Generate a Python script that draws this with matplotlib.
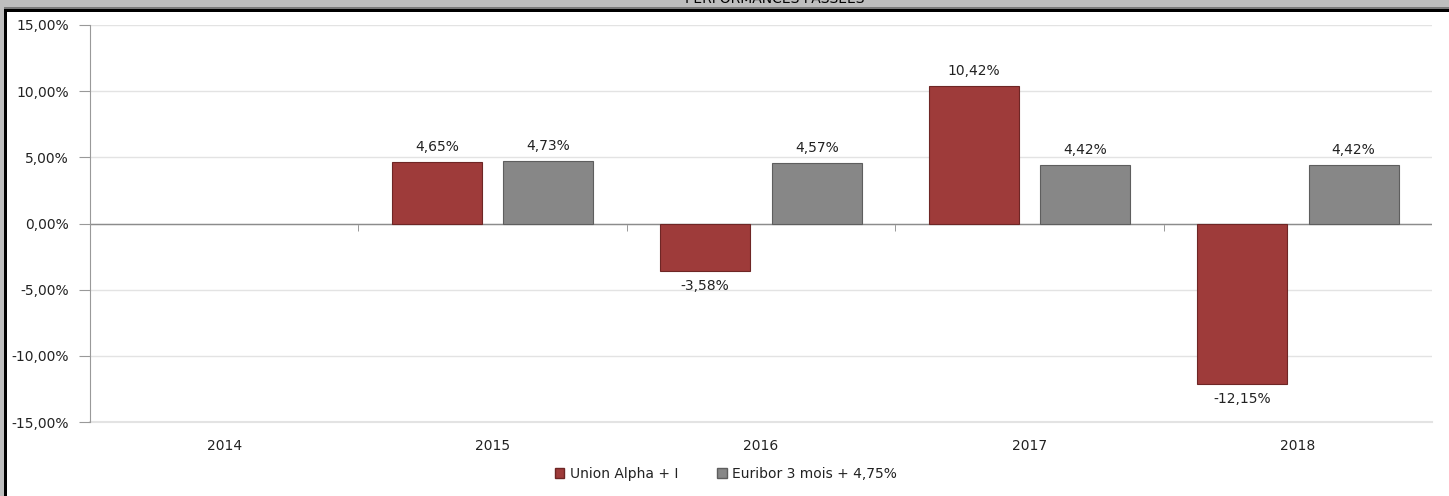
import matplotlib.pyplot as plt
from matplotlib.patches import Rectangle
from matplotlib.ticker import FuncFormatter, FixedLocator

years = ['2014', '2015', '2016', '2017', '2018']
fund = [None, 4.65, -3.58, 10.42, -12.15]
bench = [None, 4.73, 4.57, 4.42, 4.42]
fund_name = 'Union Alpha + I'
bench_name = 'Euribor 3 mois + 4,75%'
title = 'PERFORMANCES PASSEES'

red = '#9e3b3a'
grey = '#878787'
fs = 10

W, H = 1449, 496
fig = plt.figure(figsize=(W / 100, H / 100), dpi=100)
ax = fig.add_axes([90 / W, 1 - 422 / H, (1432 - 90) / W, (422 - 25) / H])

# header band (cut at the top) and frame
fig.patches.append(Rectangle((0, 1 - 7 / H), 1, 7 / H, transform=fig.transFigure,
                             facecolor='#bebebe', edgecolor='none', zorder=-2))
fig.patches.append(Rectangle((0, 1 - 9 / H), 1, 2 / H, transform=fig.transFigure,
                             facecolor='#7a7a7a', edgecolor='none', zorder=-2))
fig.patches.append(Rectangle((0, 1 - 11.5 / H), 1, 2.5 / H, transform=fig.transFigure,
                             facecolor='black', edgecolor='none', zorder=-2))
fig.patches.append(Rectangle((3.5 / W, 0), 3 / W, 1 - 9 / H, transform=fig.transFigure,
                             facecolor='black', edgecolor='none', zorder=-2))
fig.patches.append(Rectangle((0, 0), 3.5 / W, 1 - 7 / H, transform=fig.transFigure,
                             facecolor='#bebebe', edgecolor='none', zorder=-2))
fig.text(775 / W, 1 + 1 / H, title, ha='center', va='center', fontsize=fs,
         color='black', family='DejaVu Sans')

x = range(len(years))
off = 0.208
bw = 0.335
for i in x:
    if fund[i] is not None:
        ax.bar(i - off, fund[i], bw, color=red, edgecolor='#6e2625', linewidth=0.8, zorder=3)
        va = 'bottom' if fund[i] >= 0 else 'top'
        dy = 0.6 if fund[i] >= 0 else -0.6
        ax.text(i - off, fund[i] + dy, ('%.2f%%' % fund[i]).replace('.', ','),
                ha='center', va=va, fontsize=fs, color='#222222')
    if bench[i] is not None:
        ax.bar(i + off, bench[i], bw, color=grey, edgecolor='#5e5e5e', linewidth=0.8, zorder=3)
        ax.text(i + off, bench[i] + 0.6, ('%.2f%%' % bench[i]).replace('.', ','),
                ha='center', va='bottom', fontsize=fs, color='#222222')

ax.set_xlim(-0.5, len(years) - 0.5)
ax.set_ylim(-15, 15)
ax.set_yticks([-15, -10, -5, 0, 5, 10, 15])
ax.yaxis.set_major_formatter(FuncFormatter(lambda v, p: ('%.2f%%' % v).replace('.', ',')))
ax.set_xticks(list(x))
ax.set_xticklabels(years)
ax.xaxis.set_minor_locator(FixedLocator([i + 0.5 for i in range(len(years) - 1)]))
ax.tick_params(axis='x', which='major', length=0, pad=12, labelsize=fs, labelcolor='#222222')
ax.tick_params(axis='x', which='minor', length=5, color='#888888', direction='out')
ax.tick_params(axis='y', length=8, color='#999999', labelsize=fs, labelcolor='#222222', pad=7)
ax.grid(axis='y', color='#e3e3e3', linewidth=1, zorder=0)
ax.axhline(0, color='#8c8c8c', linewidth=1, zorder=2)
ax.axhline(-15, color='#e3e3e3', linewidth=1.5, zorder=0, clip_on=False)
# move minor x ticks onto the zero line
ax.spines['bottom'].set_position(('data', 0))
ax.spines['bottom'].set_visible(False)
ax.spines['top'].set_visible(False)
ax.spines['right'].set_visible(False)
ax.spines['left'].set_color('#999999')
for lbl in ax.get_xticklabels():
    lbl.set_y(-15)

h1 = Rectangle((0, 0), 1, 1, facecolor=red, edgecolor='#6e2625')
h2 = Rectangle((0, 0), 1, 1, facecolor=grey, edgecolor='#5e5e5e')
fig.legend([h1, h2], [fund_name, bench_name], loc='center', bbox_to_anchor=(726 / W, 1 - 474 / H),
           ncol=2, frameon=False, fontsize=fs, handlelength=0.7, handleheight=0.7,
           handletextpad=0.4, columnspacing=2.8, labelcolor='#222222')

fig.savefig('out.png', dpi=100)
